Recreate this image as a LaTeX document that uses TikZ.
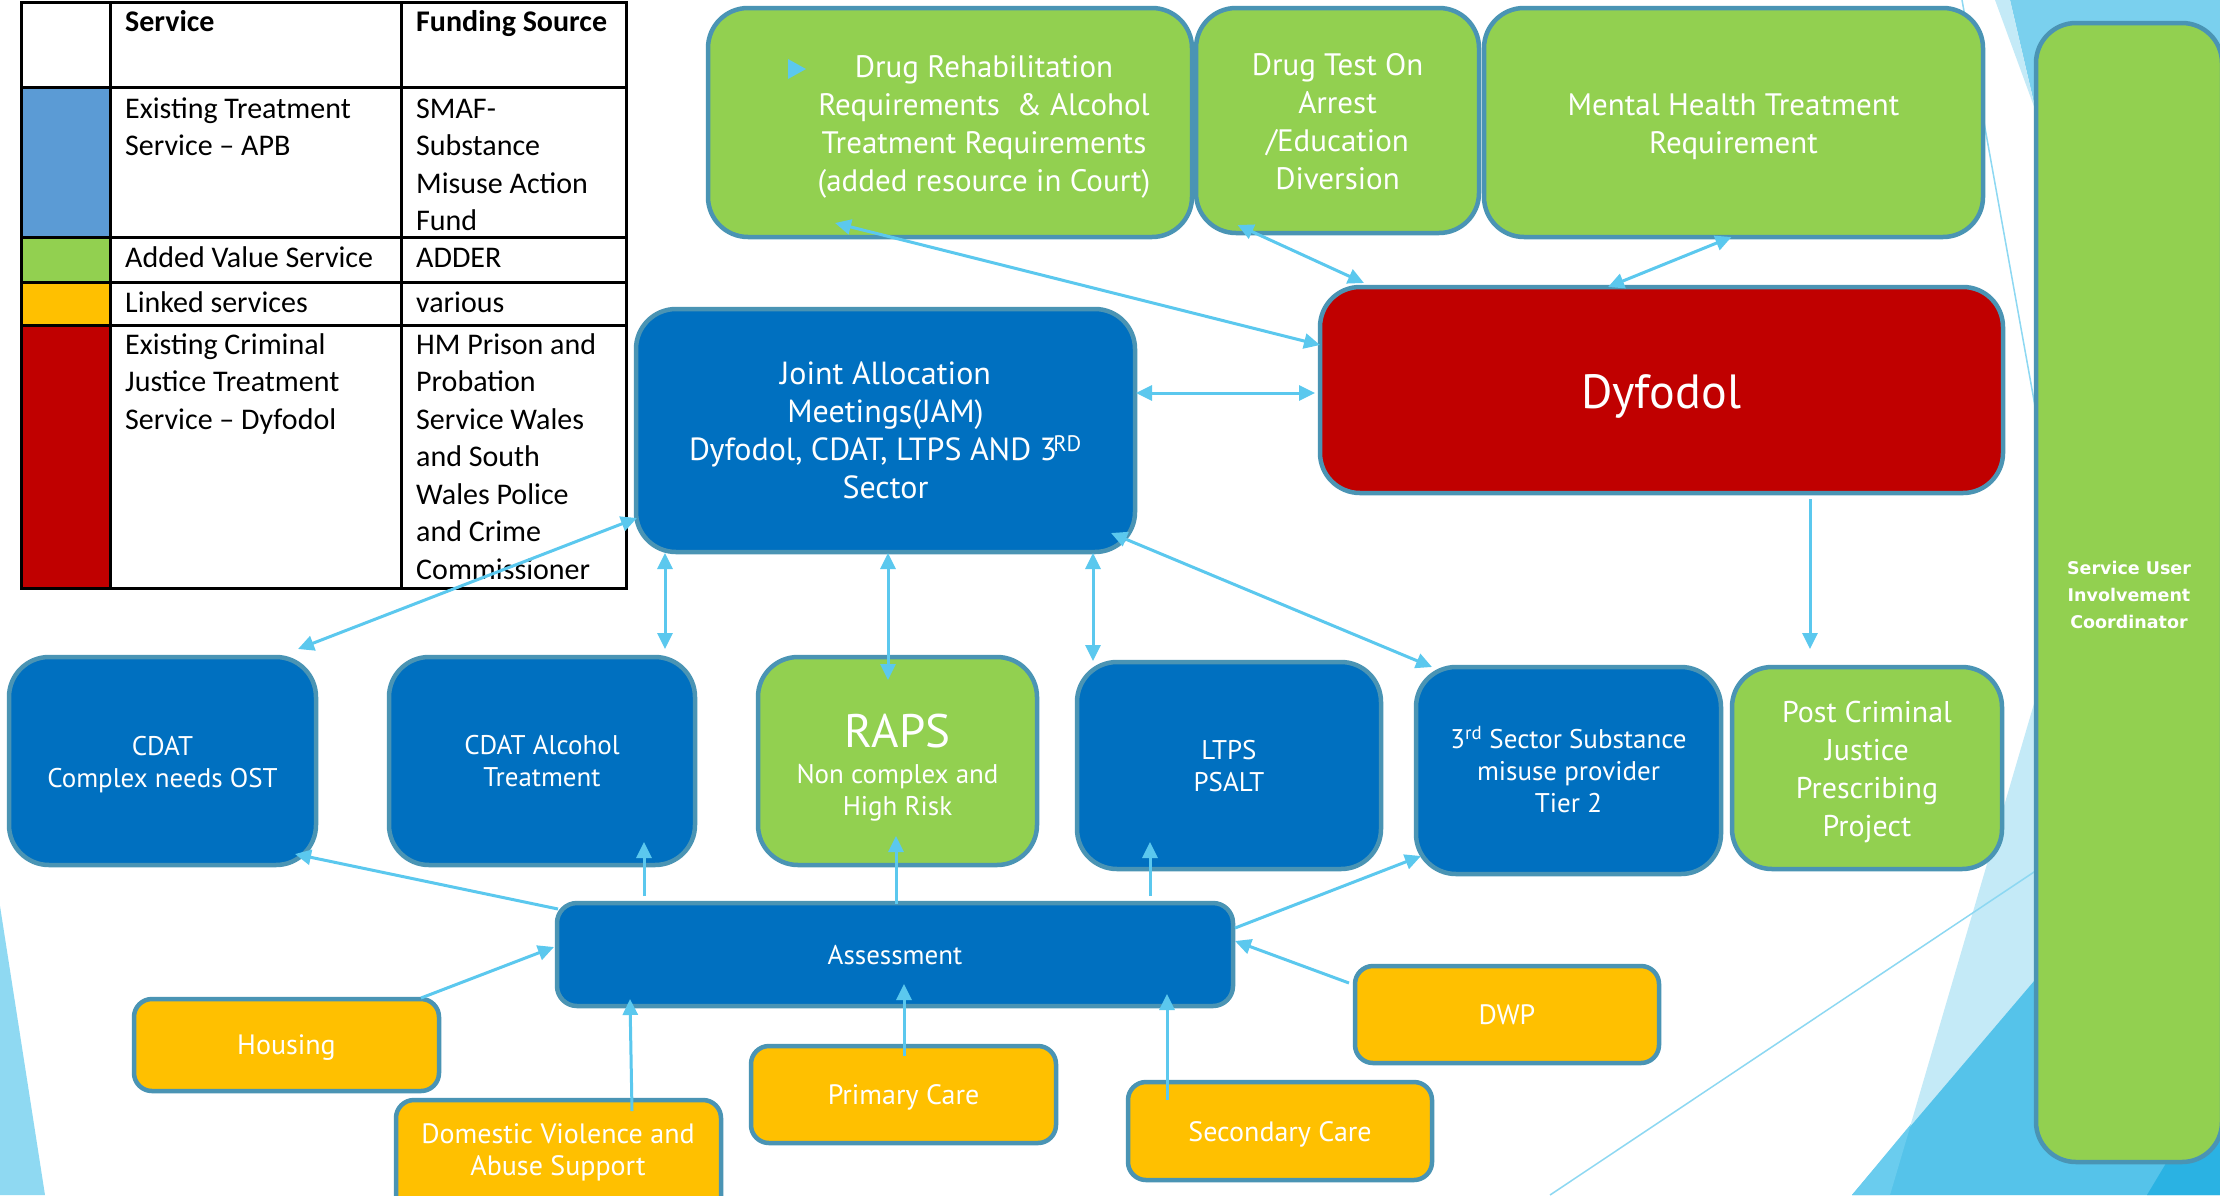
\documentclass[tikz,border=0pt]{standalone}
\usepackage{fontspec}
\setmainfont{PT Sans}
\newfontfamily\tabfont{Carlito}
\newfontfamily\sufont{DejaVu Sans}
\usetikzlibrary{arrows.meta,calc}

\definecolor{cblue}{HTML}{0070C0}
\definecolor{cgreen}{HTML}{92D050}
\definecolor{cyel}{HTML}{FFC000}
\definecolor{cred}{HTML}{C00000}
\definecolor{tblue}{HTML}{5B9BD5}
\definecolor{bord}{HTML}{4A94B4}
\definecolor{arr}{HTML}{5BC8EE}
\definecolor{bgpale}{HTML}{C4EAF7}
\definecolor{bgmid}{HTML}{7AD0EE}
\definecolor{bgleft}{HTML}{8FD9F2}
\definecolor{bgblue}{HTML}{55C3EA}
\definecolor{bglight}{HTML}{6ACCEE}
\definecolor{bgdark}{HTML}{2AB2E3}
\definecolor{thin}{HTML}{8DD8F2}

% box with its text: [text y-offset]{name}{style}{left}{top}{right}{bottom}{text}
\newcommand\mybox[8][0]{%
  \pgfmathsetmacro\bxcx{(#4+#6)/2}%
  \pgfmathsetmacro\bxcy{(#5+#7)/2}%
  \pgfmathsetmacro\bxty{(#5+#7)/2+#1}%
  \pgfmathsetmacro\bxww{#6-#4}%
  \pgfmathsetmacro\bxhh{#7-#5}%
  \node[#3, minimum width=\bxww pt, minimum height=\bxhh pt] (#2) at (\bxcx,\bxcy) {};
  \node[#3, draw=none, fill=none, minimum width=0pt, minimum height=0pt] (#2t) at (\bxcx,\bxty) {#8};}
% box only
\newcommand\plainbox[6]{%
  \pgfmathsetmacro\bxcx{(#3+#5)/2}%
  \pgfmathsetmacro\bxcy{(#4+#6)/2}%
  \pgfmathsetmacro\bxww{#5-#3}%
  \pgfmathsetmacro\bxhh{#6-#4}%
  \node[#2, minimum width=\bxww pt, minimum height=\bxhh pt] (#1) at (\bxcx,\bxcy) {};}

\tikzset{
  bx/.style={draw=bord, line width=4.5pt, inner sep=0pt, outer sep=0pt, text=white, align=center, rounded corners=40pt},
  gbox/.style={bx, fill=cgreen},
  bbox/.style={bx, fill=cblue},
  rbox/.style={bx, fill=cred},
  ybox/.style={bx, fill=cyel, rounded corners=18pt},
  txt/.style={text=white, align=center, inner sep=0pt},
  ttxt/.style={text=black, align=left, inner sep=0pt, anchor=north west, font=\tabfont\fontsize{30}{37.5}\selectfont},
  con/.style={draw=arr, line width=3pt},
  bi/.style={con, {Triangle[length=16pt,width=15pt]}-{Triangle[length=16pt,width=15pt]}},
  one/.style={con, -{Triangle[length=16pt,width=15pt]}},
  deco/.style={draw=thin, line width=1.5pt},
  fA/.style={font=\fontsize{31}{38}\selectfont},
  fB/.style={font=\fontsize{27}{32}\selectfont},
  fC/.style={font=\fontsize{30}{38}\selectfont},
  fD/.style={font=\fontsize{28}{32}\selectfont},
}

\begin{document}
\begin{tikzpicture}[x=1pt,y=-1pt]
\useasboundingbox (0,0) rectangle (2220,1195);
\clip (0,0) rectangle (2220,1195);
\fill[white] (0,0) rectangle (2220,1195);

% background decorations
\fill[bgleft] (0,906) -- (45,1195) -- (0,1195) -- cycle;
\fill[bgmid] (2010,0) -- (2220,0) -- (2220,900) -- cycle;
\fill[bgpale] (1995,0) -- (2010,0) -- (2036,112) -- cycle;
\draw[deco] (1962,0) -- (2042,445);
\fill[bgpale] (2123,400) -- (1890,1195) -- (2220,1195) -- (2220,400) -- cycle;
\fill[bgblue] (2120,880) -- (1852,1195) -- (2220,1195) -- (2220,880) -- cycle;
\fill[bglight] (1852,1195) -- (1890,1195) -- (1911,1124) -- cycle;
\fill[bgdark] (2147,1195) -- (2222,1195) -- (2222,1070) -- cycle;
\draw[deco] (1550,1195) -- (2040,868);

% legend table
\fill[tblue] (21,87) rectangle (110,237);
\fill[cgreen] (21,237) rectangle (110,282);
\fill[cyel] (21,282) rectangle (110,325);
\fill[cred] (21,325) rectangle (110,588);
\draw[line width=3pt] (21,2) rectangle (626,588);
\foreach \yy in {87,237,282,325} {\draw[line width=3pt] (21,\yy) -- (626,\yy);}
\draw[line width=3pt] (110,2) -- (110,588);
\draw[line width=3pt] (401,2) -- (401,588);
\node[ttxt, font=\tabfont\bfseries\fontsize{30}{37.5}\selectfont] (th1) at (125,4.75) {\strut Service};
\node[ttxt, font=\tabfont\bfseries\fontsize{30}{37.5}\selectfont] (th2) at (416,4.75) {\strut Funding Source};
\node[ttxt] (t1a) at (125,91.75) {\strut Existing Treatment\\Service – APB};
\node[ttxt] (t1b) at (416,91.75) {\strut SMAF-\\Substance\\Misuse Action\\Fund};
\node[ttxt] (t2a) at (125,240.75) {\strut Added Value Service};
\node[ttxt] (t2b) at (416,240.75) {\strut ADDER};
\node[ttxt] (t3a) at (125,285.75) {\strut Linked services};
\node[ttxt] (t3b) at (416,285.75) {\strut various};
\node[ttxt] (t4a) at (125,327.75) {\strut Existing Criminal\\Justice Treatment\\Service – Dyfodol};
\node[ttxt] (t4b) at (416,327.75) {\strut HM Prison and\\Probation\\Service Wales\\and South\\Wales Police\\and Crime\\Commissioner};

% boxes
\plainbox{rehab}{gbox}{708}{8}{1192}{237}
\node[txt, fA] (rehabtxt) at (984,127) {Drug Rehabilitation\\Requirements \ \& Alcohol\\Treatment Requirements\\(added resource in Court)};
\fill[arr] (788,59) -- (806,69) -- (788,79) -- cycle;
\mybox[1]{dtest}{gbox, fA}{1196}{8}{1479}{233}{Drug Test On\\Arrest\\/Education\\Diversion}
\mybox[4]{mht}{gbox, fA}{1484}{8}{1983}{237}{Mental Health Treatment\\Requirement}
\mybox[2]{su}{gbox, font=\sufont\bfseries\fontsize{17.5}{27}\selectfont}{2036}{23}{2222}{1162}{Service User\\Involvement\\Coordinator}
\mybox[6]{dyf}{rbox, font=\fontsize{48}{56}\selectfont}{1320}{287}{2003}{493}{Dyfodol}
\mybox{jam}{bbox, font=\fontsize{32}{38}\selectfont}{636}{309}{1135}{552}{Joint Allocation\\Meetings(JAM)\\Dyfodol, CDAT, LTPS AND 3\kern-0.12em\textsuperscript{RD}\\Sector}
\mybox[4]{cdat}{bbox, fB}{9}{657}{316}{865}{CDAT\\Complex needs OST}
\mybox{cdatA}{bbox, fB}{389}{657}{695}{865}{CDAT Alcohol\\Treatment}
\mybox[7]{raps}{gbox, fB}{758}{657}{1037}{865}{{\fontsize{47}{52}\selectfont RAPS}\\[4pt]Non complex and\\High Risk}
\mybox[1]{ltps}{bbox, fB}{1077}{662}{1381}{869}{LTPS\\PSALT}
\mybox[-1]{third}{bbox, fB}{1416}{667}{1721}{874}{3\textsuperscript{rd} Sector Substance\\misuse provider\\Tier 2}
\mybox[4]{pcj}{gbox, fC}{1732}{667}{2002}{869}{Post Criminal\\Justice\\Prescribing\\Project}
\mybox[1]{assess}{bbox, font=\fontsize{27}{32}\selectfont, rounded corners=20pt}{557}{903}{1233}{1006}{Assessment}
\mybox[3]{housing}{ybox, fD}{134}{999}{439}{1091}{Housing}
\plainbox{dv}{ybox}{396}{1100}{721}{1240}
\node[txt, fD] (dvtxt) at (558,1152) {Domestic Violence and\\Abuse Support};
\mybox[3]{pcare}{ybox, fD}{751}{1046}{1056}{1143}{Primary Care}
\mybox[3]{scare}{ybox, fD}{1128}{1082}{1432}{1180}{Secondary Care}
\mybox{dwp}{ybox, fD}{1355}{966}{1659}{1063}{DWP}

% connectors
\draw[bi] ($(rehab.south)+(-115,-14)$) -- ($(dyf.west)+(0,-45)$);
\draw[bi] ($(dtest.south)+(-100,-8)$) -- ($(dyf.north)+(-297.5,-4)$);
\draw[bi] ($(mht.south)+(-2,0)$) -- ($(dyf.north)+(-53.5,0)$);
\draw[bi] ($(jam.east)+(1,-37.5)$) -- ($(dyf.west)+(-5,3)$);
\draw[bi] ($(jam.south east)+(-24,-19)$) -- ($(third.north west)+(16,0)$);
\draw[one] ($(dyf.south)+(148.5,6)$) -- ($(pcj.north)+(-57,-18)$);
\draw[bi] ($(jam.south west)+(1,-34)$) -- ($(cdat.north east)+(-18,-8)$);
\draw[bi] ($(jam.south west)+(29,1)$) -- ($(cdatA.north)+(123,-8)$);
\draw[bi] ($(jam.south)+(2.5,1)$) -- ($(raps.north)+(-9.5,23)$);
\draw[bi] ($(jam.south east)+(-42,1)$) -- ($(ltps.north)+(-136,-1)$);
\draw[one] ($(assess.north west)+(1,6)$) -- ($(cdat.south east)+(-21,-11)$);
\draw[one] ($(assess.north west)+(87,-7)$) -- ($(cdatA.south)+(102,-23)$);
\draw[one] ($(assess.north)+(1,1)$) -- ($(raps.south)+(-1.5,-29)$);
\draw[one] ($(assess.north east)+(-83,-7)$) -- ($(ltps.south)+(-79,-27)$);
\draw[one] ($(assess.north east)+(2,25)$) -- ($(third.south west)+(5,-18)$);
\draw[one] ($(dwp.north west)+(-6,17)$) -- ($(assess.east)+(2,-13.5)$);
\draw[one] ($(scare.north west)+(39,18)$) -- ($(assess.south east)+(-66,-12)$);
\draw[one] ($(pcare.north)+(0.5,10)$) -- ($(assess.south)+(9,-22)$);
\draw[one] ($(dv.north west)+(236,11)$) -- ($(assess.south west)+(73,-7)$);
\draw[one] ($(housing.north east)+(-18,-1)$) -- ($(assess.west)+(-3,-7.5)$);
\end{tikzpicture}
\end{document}
